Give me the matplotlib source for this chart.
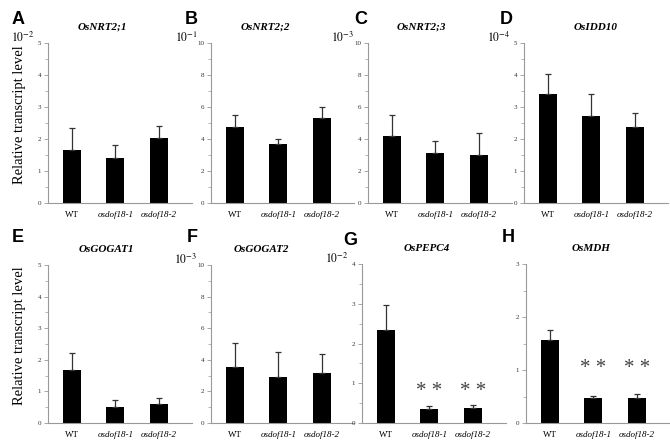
import matplotlib
matplotlib.use('Agg')
import matplotlib.pyplot as plt
from matplotlib.ticker import MultipleLocator

plt.rcParams['font.family'] = 'Liberation Serif'
plt.rcParams['mathtext.fontset'] = 'stix'

W, H = 670, 443

genotypes = ['WT', 'osdof18-1', 'osdof18-2']

letters = ['A', 'B', 'C', 'D', 'E', 'F', 'G', 'H']
genes = ['OsNRT2;1', 'OsNRT2;2', 'OsNRT2;3', 'OsIDD10',
         'OsGOGAT1', 'OsGOGAT2', 'OsPEPC4', 'OsMDH']
multipliers = ['$10^{-2}$', '$10^{-1}$', '$10^{-3}$', '$10^{-4}$',
               '', '$10^{-3}$', '$10^{-2}$', '']

vals_A = [1.66, 1.42, 2.02]
vals_B = [4.78, 3.70, 5.30]
vals_C = [4.20, 3.14, 2.97]
vals_D = [3.40, 2.71, 2.38]
vals_E = [1.68, 0.50, 0.60]
vals_F = [3.55, 2.90, 3.15]
vals_G = [2.33, 0.34, 0.38]
vals_H = [1.56, 0.47, 0.47]

err_A = [0.68, 0.38, 0.38]
err_B = [0.69, 0.33, 0.70]
err_C = [1.27, 0.75, 1.40]
err_D = [0.62, 0.70, 0.43]
err_E = [0.55, 0.24, 0.20]
err_F = [1.50, 1.60, 1.20]
err_G = [0.64, 0.08, 0.07]
err_H = [0.20, 0.04, 0.08]

ymax = [5, 10, 10, 5, 5, 10, 4, 3]
ystep = [1, 2, 2, 1, 1, 2, 1, 1]

# significance marks (panel index -> height of ** over the mutants)
stars = {6: 0.80, 7: 1.02}

values = [vals_A, vals_B, vals_C, vals_D, vals_E, vals_F, vals_G, vals_H]
errors = [err_A, err_B, err_C, err_D, err_E, err_F, err_G, err_H]

# axes placement in pixels (left, top, bottom)
lefts = [48, 211, 368, 524, 48, 211, 362, 526]
tops = [43, 43, 43, 43, 265, 265, 264, 264]
bottoms = [203, 203, 203, 203, 423, 423, 423, 423]
title_x = [0.38, 0.38, 0.37, 0.50, 0.41, 0.35, 0.45, 0.45]
letter_x = [12, 185, 354, 500, 12, 187, 343, 502]
letter_y = [20, 20, 20, 20, 238, 238, 240, 238]
aw = 143.5

fig = plt.figure(figsize=(W / 100, H / 100), dpi=100)

for i in range(8):
    l, t, b = lefts[i], tops[i], bottoms[i]
    ax = fig.add_axes([l / W, 1 - b / H, aw / W, (b - t) / H])
    x = range(3)
    ax.bar(x, values[i], width=0.41, color='black', zorder=2)
    ax.errorbar(x, values[i], yerr=[[0, 0, 0], errors[i]], fmt='none',
                ecolor='#333333', elinewidth=0.9, capsize=2.5, capthick=0.9,
                zorder=3)
    ax.set_xlim(-0.55, 2.75)
    ax.set_ylim(0, ymax[i])
    ax.yaxis.set_major_locator(MultipleLocator(ystep[i]))
    ax.yaxis.set_minor_locator(MultipleLocator(ystep[i] / 2))
    ax.set_xticks(list(x))
    ax.set_xticklabels(genotypes)
    for lab in ax.get_xticklabels():
        if lab.get_text() != 'WT':
            lab.set_style('italic')
        lab.set_fontsize(6.5)
    for s in ['top', 'right']:
        ax.spines[s].set_visible(False)
    for s in ['left', 'bottom']:
        ax.spines[s].set_color('#999999')
        ax.spines[s].set_linewidth(0.8)
    ax.tick_params(axis='x', length=0, pad=6)
    ax.tick_params(axis='y', which='major', length=3, width=0.6,
                   color='#999999', labelsize=5, labelcolor='#333333', pad=2)
    ax.tick_params(axis='y', which='minor', length=2, width=0.5,
                   color='#999999')

    ax.text(title_x[i], 1.10, genes[i], transform=ax.transAxes,
            ha='center', va='center', fontsize=8, fontweight='bold',
            fontstyle='italic')
    if multipliers[i]:
        ax.text(-0.095, 1.035, multipliers[i], transform=ax.transAxes,
                ha='right', va='center', fontsize=8.5)
    if i in stars:
        for k in (1, 2):
            ax.text(k, stars[i], '* *', ha='center', va='center',
                    fontsize=15, color='#444444')

    fig.text(letter_x[i] / W, 1 - letter_y[i] / H, letters[i],
             family='Liberation Sans', fontweight='bold',
             fontsize=13, ha='left', va='center')

fig.text(20 / W, 1 - 115 / H, 'Relative transcript level', rotation=90,
         ha='center', va='center', fontsize=10.5)
fig.text(20 / W, 1 - 336 / H, 'Relative transcript level', rotation=90,
         ha='center', va='center', fontsize=10.5)

fig.savefig('out.png', dpi=100)
